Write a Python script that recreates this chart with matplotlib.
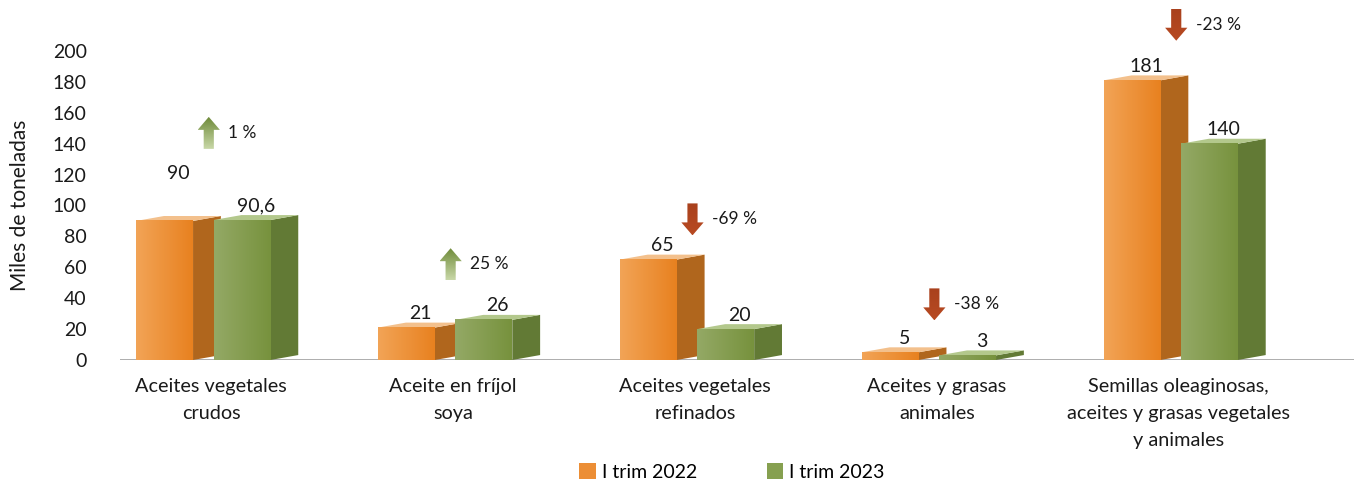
import matplotlib
matplotlib.use("Agg")
import matplotlib.pyplot as plt
import numpy as np
from matplotlib.patches import Polygon, Patch
from matplotlib.colors import LinearSegmentedColormap

plt.rcParams['font.family'] = ['Lato', 'DejaVu Sans']

# ---------------- data ----------------
categories = ["Aceites vegetales\ncrudos", "Aceite en fríjol\nsoya",
              "Aceites vegetales\nrefinados", "Aceites y grasas\nanimales",
              "Semillas oleaginosas,\naceites y grasas vegetales\ny animales"]
values_2022 = [90, 21, 65, 5, 181]
values_2023 = [90.6, 26, 20, 3, 140]
labels_2022 = ["90", "21", "65", "5", "181"]
labels_2023 = ["90,6", "26", "20", "3", "140"]
pct_labels = ["1 %", "25 %", "-69 %", "-38 %", "-23 %"]
pct_direction = [1, 1, -1, -1, -1]
series_names = ["I trim 2022", "I trim 2023"]
yticks = [0, 20, 40, 60, 80, 100, 120, 140, 160, 180, 200]

# ---------------- layout ----------------
arrow_mid_y = [147, 62, 91, 36, 217]     # vertical placement of change arrows
label_extra = {(0, 0): 22}               # manually raised label in reference

W, H = 1354, 482
fig = plt.figure(figsize=(W / 100, H / 100), dpi=100)
ax = fig.add_axes([120 / W, (H - 360) / H, 1 - 120 / W, 360 / H])
ax.set_xlim(-0.397, 4.705)
ax.set_ylim(0, 233)
for s in ax.spines.values():
    s.set_visible(False)
ax.set_xticks([])
ax.set_yticks(yticks)
ax.set_yticklabels([str(t) for t in yticks], fontsize=14, color="#1a1a1a")
ax.tick_params(axis='y', length=0, pad=24)
ax.axhline(0, color="#a6a6a6", lw=2, zorder=1)

w = 0.235      # front width
d = 0.115      # depth (x)
dy = 3.2       # depth (y)

styles = {
    0: dict(grad=("#F2A457", "#E8811F"), side="#B0661D", top="#F3C08C"),
    1: dict(grad=("#94A966", "#77923D"), side="#627A35", top="#B3C88C"),
}

def gradient_rect(x0, x1, y0, y1, c0, c1, z, horizontal=True, clip=None):
    cmap = LinearSegmentedColormap.from_list("g", [c0, c1])
    if horizontal:
        arr = np.linspace(0, 1, 256).reshape(1, -1)
    else:
        arr = np.linspace(0, 1, 256).reshape(-1, 1)
    im = ax.imshow(arr, extent=[x0, x1, y0, y1], aspect='auto', cmap=cmap,
                   origin='lower', zorder=z, interpolation='bicubic')
    if clip is not None:
        im.set_clip_path(clip)
    return im

def draw_bar(x0, h, st, z):
    x1 = x0 + w
    ax.add_patch(Polygon([(x1, 0), (x1 + d, dy), (x1 + d, h + dy), (x1, h)],
                         closed=True, facecolor=st["side"], edgecolor='none', zorder=z))
    ax.add_patch(Polygon([(x0, h), (x1, h), (x1 + d, h + dy), (x0 + d, h + dy)],
                         closed=True, facecolor=st["top"], edgecolor='none', zorder=z))
    gradient_rect(x0, x1, 0, h, st["grad"][0], st["grad"][1], z + 0.1)

for i in range(len(categories)):
    c = i
    for s, (vals, labs, off) in enumerate([(values_2022, labels_2022, -0.33),
                                           (values_2023, labels_2023, -0.01)]):
        x0 = c + off
        h = vals[i]
        draw_bar(x0, h, styles[s], 2 + 2 * s)
        ly = h + 9 + label_extra.get((i, s), 0)
        ax.text(x0 + w / 2 + d / 2, ly, labs[i], ha='center', va='center',
                fontsize=14, color="#1a1a1a", zorder=10)

    ax.annotate(categories[i], xy=(c - 0.02, 0), xytext=(0, -13),
                textcoords='offset points', ha='center', va='top',
                fontsize=14.3, color="#1a1a1a", linespacing=1.72,
                annotation_clip=False)

    xa = c - 0.03
    ym = arrow_mid_y[i]
    HA = 20.7
    hh = 8.4
    hw = 0.046
    sw = 0.021
    if pct_direction[i] > 0:
        tip = ym + HA / 2
        base = ym - HA / 2
        pts = [(xa - sw, base), (xa + sw, base), (xa + sw, tip - hh), (xa + hw, tip - hh),
               (xa, tip), (xa - hw, tip - hh), (xa - sw, tip - hh)]
        cols = ("#C9D8A8", "#6F8B3A")
        y0, y1 = base, tip
    else:
        tip = ym - HA / 2
        top = ym + HA / 2
        pts = [(xa - sw, top), (xa + sw, top), (xa + sw, tip + hh), (xa + hw, tip + hh),
               (xa, tip), (xa - hw, tip + hh), (xa - sw, tip + hh)]
        cols = ("#B84A22", "#A9411D")
        y0, y1 = tip, top
    poly = Polygon(pts, closed=True, facecolor='none', edgecolor='none',
                   transform=ax.transData, zorder=8)
    ax.add_patch(poly)
    gradient_rect(xa - hw, xa + hw, y0, y1, cols[0], cols[1], 8,
                  horizontal=False, clip=poly)
    ax.text(xa + 0.08, ym, pct_labels[i], ha='left', va='center',
            fontsize=12.5, color="#1a1a1a", zorder=10)

ax.set_xlim(-0.397, 4.705)
ax.set_ylim(0, 233)

fig.text(20 / W, (H - 205) / H, "Miles de toneladas", rotation=90,
         ha='center', va='center', fontsize=15, color="#1a1a1a")

handles = [Patch(facecolor="#EC8E35", edgecolor='none'),
           Patch(facecolor="#86A050", edgecolor='none')]
fig.legend(handles, series_names, loc='center', bbox_to_anchor=(732 / W, (H - 472) / H),
           ncol=2, frameon=False, fontsize=14, handlelength=0.85, handleheight=0.85,
           handletextpad=0.3, columnspacing=3.6)

fig.savefig("out.png", dpi=100)
